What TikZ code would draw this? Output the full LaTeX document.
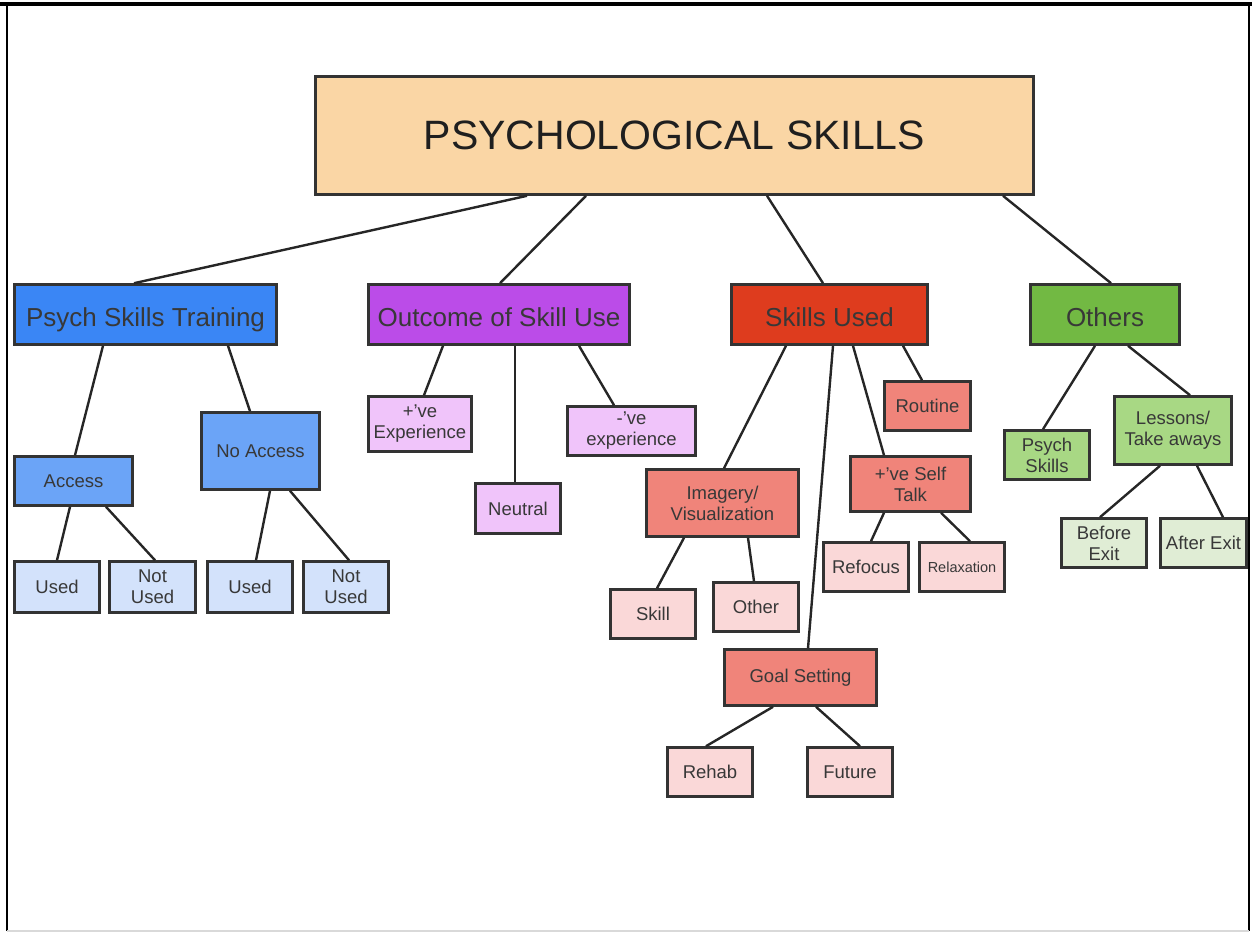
\documentclass[tikz,border=0pt]{standalone}
\usepackage{fontspec}
\setmainfont{Liberation Sans}
\usetikzlibrary{positioning}
\definecolor{peach}{RGB}{250,214,165}
\definecolor{blueA}{RGB}{58,134,245}
\definecolor{blueB}{RGB}{107,164,247}
\definecolor{blueC}{RGB}{211,226,251}
\definecolor{purpA}{RGB}{187,76,232}
\definecolor{purpB}{RGB}{240,196,250}
\definecolor{redA}{RGB}{222,60,30}
\definecolor{redB}{RGB}{240,132,122}
\definecolor{redC}{RGB}{250,216,216}
\definecolor{greenA}{RGB}{114,185,67}
\definecolor{greenB}{RGB}{168,216,132}
\definecolor{greenC}{RGB}{224,237,213}
\tikzset{
    box/.style={
        draw=black!80,
        line width=2.6pt,
        rectangle,
        inner sep=0pt,
        align=center,
        text=black!78,
        font=\fontsize{18.5}{21}\selectfont,
    },
    sz/.style 2 args={minimum width=#1pt, minimum height=#2pt},
    head/.style={box, sz={262}{60}, font=\fontsize{26}{30}\selectfont,
        text height=24pt, text depth=0pt},
    leaf/.style={box, sz={85}{49}},
    link/.style={line width=2.4pt, draw=black!85},
}

\begin{document}
\begin{tikzpicture}[x=1pt, y=-1pt]
                   \useasboundingbox (0,0) rectangle (1252,934);
                   % frame
                   \draw[line width=4pt] (0,4) -- (1252,4);
                   \draw[line width=1.2pt] (7,4) -- (7,931);
                   \draw[line width=1.2pt] (1249,4) -- (1249,931);
                   \draw[line width=1.5pt, black!15] (7,931) -- (1249,931);
                   % top
                   \node[box, fill=peach, sz={718}{118}, text=black!88,
                         font=\fontsize{41}{48}\selectfont] (title) at (674.5,135.5) {PSYCHOLOGICAL SKILLS};
                   % first row
                   \node[head, fill=blueA] (pst) at (145.5,314.5) {Psych Skills Training};
                   \node[head, fill=purpA, sz={261}{60}] (osu) at (499,314.5) {Outcome of Skill Use};
                   \node[head, fill=redA, sz={196}{60}] (su) at (829.5,314.5) {Skills Used};
                   \node[head, fill=greenA, sz={149}{60}] (oth) at (1105,314.5) {Others};
                   \draw[link] ([xshift=-147.5pt]title.south) -- ([xshift=-11.5pt]pst.north);
                   \draw[link] ([xshift=-88.5pt]title.south) -- ([xshift=1pt]osu.north);
                   \draw[link] ([xshift=92.5pt]title.south) -- ([xshift=-6.5pt]su.north);
                   \draw[link] ([xshift=328.5pt]title.south) -- ([xshift=6pt]oth.north);
                   % psych skills training
                   \node[box, fill=blueB, sz={118}{49}] (acc) at (73.5,481) {Access};
                   \node[box, fill=blueB, sz={118}{77}] (noacc) at (260.5,451) {No Access};
                   \node[leaf, fill=blueC, sz={85}{51}] (used1) at (57,587) {Used};
                   \node[leaf, fill=blueC, sz={86}{51}] (notused1) at (152.5,587) {Not\\Used};
                   \node[leaf, fill=blueC, sz={85}{51}] (used2) at (250,587) {Used};
                   \node[leaf, fill=blueC, sz={85}{51}] (notused2) at (346,587) {Not\\Used};
                   \draw[link] ([xshift=-42.5pt]pst.south) -- ([xshift=1.5pt]acc.north);
                   \draw[link] ([xshift=82.5pt]pst.south) -- ([xshift=-10.5pt]noacc.north);
                   \draw[link] ([xshift=-3.5pt]acc.south) -- (used1.north);
                   \draw[link] ([xshift=32.5pt]acc.south) -- ([xshift=2.5pt]notused1.north);
                   \draw[link] ([xshift=9.5pt]noacc.south) -- ([xshift=6pt]used2.north);
                   \draw[link] ([xshift=29.5pt]noacc.south) -- ([xshift=3pt]notused2.north);
                   % outcome of skill use
                   \node[box, fill=purpB, sz={103}{55}] (pos) at (420,424) {+'ve\\Experience};
                   \node[box, fill=purpB, sz={85}{50}] (neut) at (518,508.5) {Neutral};
                   \node[box, fill=purpB, sz={128}{49}] (neg) at (631.5,431) {-'ve\\experience};
                   \draw[link] ([xshift=-56pt]osu.south) -- ([xshift=4pt]pos.north);
                   \draw[link] ([xshift=16pt]osu.south) -- ([xshift=-3pt]neut.north);
                   \draw[link] ([xshift=80pt]osu.south) -- ([xshift=-17.5pt]neg.north);
                   % skills used
                   \node[box, fill=redB, sz={152}{67}] (img) at (722.5,503) {Imagery/\\Visualization};
                   \node[box, fill=redB, sz={86}{49}] (rout) at (927.5,406) {Routine};
                   \node[box, fill=redB, sz={120}{55}] (talk) at (910.5,484) {+'ve Self\\Talk};
                   \node[box, fill=redB, sz={152}{56}] (goal) at (800.5,677.5) {Goal Setting};
                   \node[leaf, fill=redC] (skill) at (653,614) {Skill};
                   \node[leaf, fill=redC] (other) at (756,607) {Other};
                   \node[leaf, fill=redC] (refoc) at (866,567) {Refocus};
                   \node[leaf, fill=redC, font=\fontsize{14.5}{17}\selectfont] (relax) at (962,567) {Relaxation};
                   \node[leaf, fill=redC] (rehab) at (710,772) {Rehab};
                   \node[leaf, fill=redC] (fut) at (850,772) {Future};
                   \draw[link] ([xshift=-43.5pt]su.south) -- ([xshift=1.5pt]img.north);
                   \draw[link] ([xshift=3.5pt]su.south) -- ([xshift=7.5pt]goal.north);
                   \draw[link] ([xshift=23.5pt]su.south) -- ([xshift=-26.5pt]talk.north);
                   \draw[link] ([xshift=73.5pt]su.south) -- ([xshift=-5.5pt]rout.north);
                   \draw[link] ([xshift=-38.5pt]img.south) -- ([xshift=4pt]skill.north);
                   \draw[link] ([xshift=25.5pt]img.south) -- ([xshift=-2pt]other.north);
                   \draw[link] ([xshift=-26.5pt]talk.south) -- ([xshift=5pt]refoc.north);
                   \draw[link] ([xshift=30.5pt]talk.south) -- ([xshift=8pt]relax.north);
                   \draw[link] ([xshift=-27.5pt]goal.south) -- ([xshift=-4pt]rehab.north);
                   \draw[link] ([xshift=15.5pt]goal.south) -- ([xshift=10pt]fut.north);
                   % others
                   \node[leaf, fill=greenB] (psk) at (1047,455) {Psych\\Skills};
                   \node[box, fill=greenB, sz={117}{68}] (less) at (1173,430.5) {Lessons/\\Take aways};
                   \node[leaf, fill=greenC] (bef) at (1104,543) {Before\\Exit};
                   \node[leaf, fill=greenC, sz={86}{49}] (aft) at (1203.5,543) {After Exit};
                   \draw[link] ([xshift=-10pt]oth.south) -- ([xshift=-4pt]psk.north);
                   \draw[link] ([xshift=23pt]oth.south) -- ([xshift=17pt]less.north);
                   \draw[link] ([xshift=-13pt]less.south) -- ([xshift=-4pt]bef.north);
                   \draw[link] ([xshift=24pt]less.south) -- ([xshift=19.5pt]aft.north);
                   \end{tikzpicture}
\end{document}
